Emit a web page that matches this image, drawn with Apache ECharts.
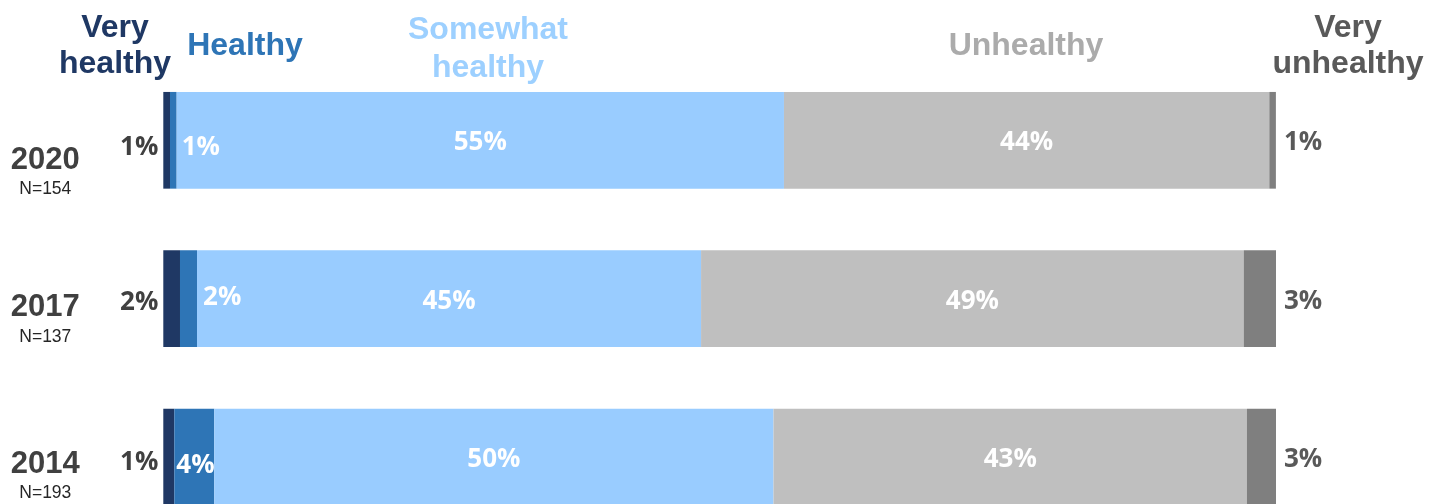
<!DOCTYPE html>
<html>
<head>
<meta charset="utf-8">
<script src="https://cdn.jsdelivr.net/npm/echarts@6/dist/echarts.min.js"></script>
<style>
html,body{margin:0;padding:0;background:#fff;}
#chart{width:1443px;height:504px;}
</style>
</head>
<body>
<div id="chart"></div>
<script>
// Data
var years = ['2020', '2017', '2014'];
var sampleSizes = ['N=154', 'N=137', 'N=193'];
var seriesNames = ['Very healthy', 'Healthy', 'Somewhat healthy', 'Unhealthy', 'Very unhealthy'];
var headerLabels = ['Very\nhealthy', 'Healthy', 'Somewhat\nhealthy', 'Unhealthy', 'Very\nunhealthy'];
var veryHealthy = [0.60, 1.50, 0.99];
var healthy = [0.60, 1.53, 3.59];
var somewhatHealthy = [54.58, 45.30, 50.26];
var unhealthy = [43.62, 48.77, 42.55];
var veryUnhealthy = [0.59, 2.90, 2.61];

var colors = ['#1F3864', '#2E75B6', '#99CCFF', '#BFBFBF', '#7F7F7F'];
var headerColors = ['#1F3864', '#2E75B6', '#9DD0FF', '#ABABAB', '#595959'];

var pctFont = '"Open Sans", "Liberation Sans", Arial, sans-serif';
var hdrFont = '"Liberation Sans", Arial, sans-serif';

function fmt(p) { return Math.round(p.value) + '%'; }

var chart = echarts.init(document.getElementById('chart'), null, {renderer: 'canvas'});

var baseLabel = {
  show: true, formatter: fmt, fontFamily: pctFont, fontWeight: 'bold', fontSize: 26
};

var vhOffsets = [7, 3.6, 5];
var hOffsets = [7, -1.4, 8.6];

var veryHealthyData = veryHealthy.map(function (v, i) {
  return {value: v, label: {offset: [0, vhOffsets[i]]}};
});
var healthyData = healthy.map(function (v, i) {
  if (i === 2) {
    return {value: v, label: {position: 'insideLeft', distance: 2, offset: [0, hOffsets[i]]}};
  }
  return {value: v, label: {position: 'right', distance: i === 0 ? 5 : 6, offset: [0, hOffsets[i]]}};
});

var hdrPos = [[115, 46], [245, 46], [488, 49.5], [1026, 46], [1348, 46]];
var hdrLH = [36, 0, 38, 0, 36];

var option = {
  animation: false,
  backgroundColor: '#ffffff',
  grid: {left: 163.3, right: 167, top: 61.1, height: 475.2, containLabel: false, outerBoundsMode: 'none'},
  xAxis: {type: 'value', min: 0, max: 100, show: false},
  yAxis: {
    type: 'category', data: years, inverse: true,
    axisLine: {show: false}, axisTick: {show: false}, splitLine: {show: false},
    axisLabel: {
      margin: 118, align: 'center',
      formatter: function (val, idx) { return '{g' + idx + '|}\n{y|' + val + '}\n{n|' + sampleSizes[idx] + '}'; },
      rich: {
        g0: {height: 68, lineHeight: 68},
        g1: {height: 46, lineHeight: 46},
        g2: {height: 42, lineHeight: 42},
        y: {fontFamily: hdrFont, fontWeight: 'bold', fontSize: 31, color: '#404040', lineHeight: 30, align: 'center'},
        n: {fontFamily: hdrFont, fontSize: 17.5, color: '#262626', lineHeight: 28, align: 'center'}
      }
    }
  },
  series: [
    {
      name: seriesNames[0], type: 'bar', stack: 'total', barWidth: 96.7, data: veryHealthyData,
      itemStyle: {color: colors[0]},
      label: Object.assign({}, baseLabel, {position: 'left', distance: 5, color: '#404040'})
    },
    {
      name: seriesNames[1], type: 'bar', stack: 'total', data: healthyData,
      itemStyle: {color: colors[1]},
      label: Object.assign({}, baseLabel, {color: '#ffffff'})
    },
    {
      name: seriesNames[2], type: 'bar', stack: 'total', data: somewhatHealthy,
      itemStyle: {color: colors[2]},
      label: Object.assign({}, baseLabel, {position: 'inside', color: '#ffffff', offset: [0, 2.5]})
    },
    {
      name: seriesNames[3], type: 'bar', stack: 'total', data: unhealthy,
      itemStyle: {color: colors[3]},
      label: Object.assign({}, baseLabel, {position: 'inside', color: '#ffffff', offset: [0, 2.5]})
    },
    {
      name: seriesNames[4], type: 'bar', stack: 'total', data: veryUnhealthy,
      itemStyle: {color: colors[4]},
      label: Object.assign({}, baseLabel, {position: 'right', distance: 8, color: '#595959', offset: [0, 2.5]})
    }
  ],
  graphic: headerLabels.map(function (t, i) {
    var st = {text: t, fill: headerColors[i], font: 'bold 32px ' + hdrFont, textAlign: 'center', textVerticalAlign: 'middle'};
    if (hdrLH[i]) st.lineHeight = hdrLH[i];
    return {type: 'text', x: hdrPos[i][0], y: hdrPos[i][1], style: st};
  })
};
chart.setOption(option);
</script>
</body>
</html>
